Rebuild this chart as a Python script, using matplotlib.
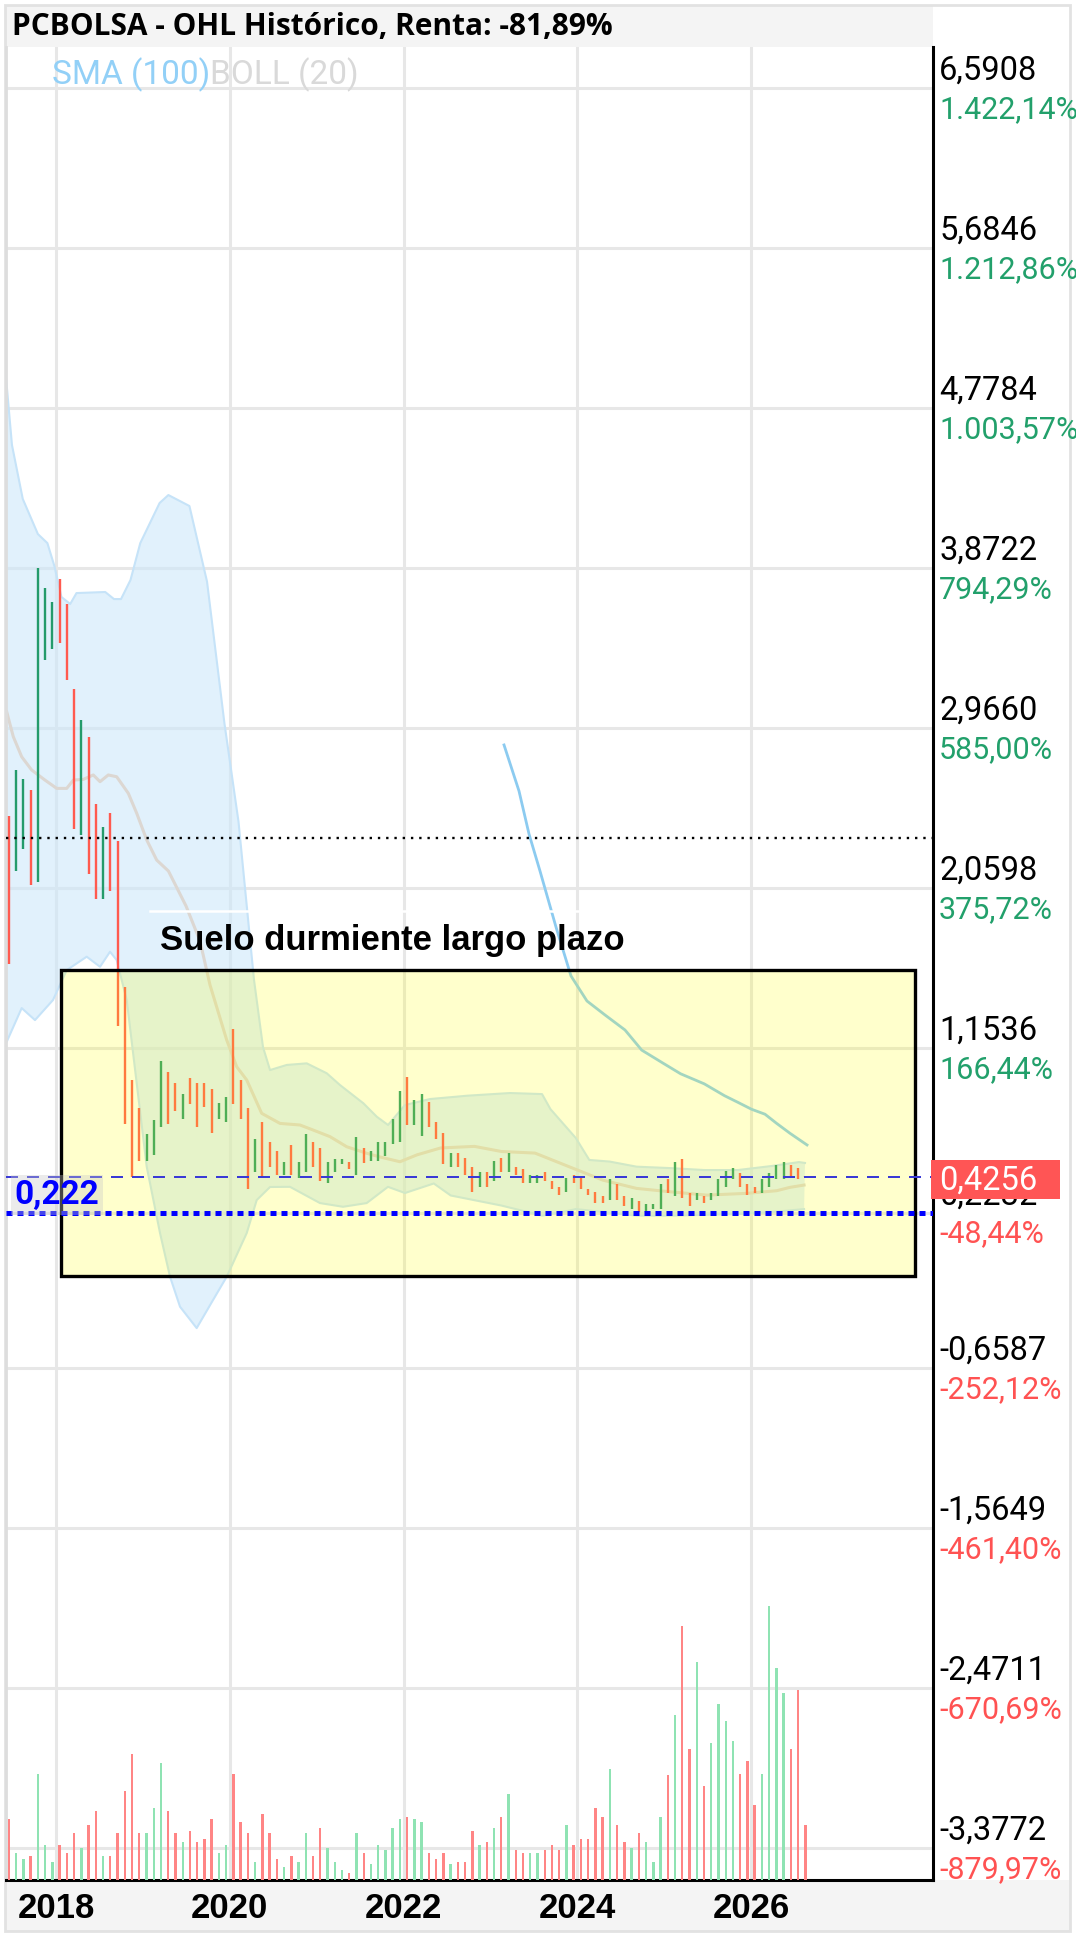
"""OHL monthly chart with Bollinger bands, SMA(100) and volume"""

import matplotlib
matplotlib.use("Agg")
import matplotlib.pyplot as plt
from matplotlib.patches import Rectangle

plt.rcParams['font.family'] = ['Roboto', 'DejaVu Sans']

# monthly bars, first one is Jun 2017, last one Aug 2026
highs = [2.469, 2.729, 2.678, 2.616, 3.871, 3.761, 3.680, 3.809, 3.667, 3.188,
         3.012, 2.916, 2.535, 2.408, 2.487, 2.327, 1.499, 0.974, 0.813, 0.668,
         0.747, 1.083, 1.021, 0.955, 0.893, 0.987, 0.955, 0.955, 0.924, 0.845,
         0.876, 1.261, 0.974, 0.813, 0.638, 0.734, 0.621, 0.573, 0.511, 0.606,
         0.511, 0.668, 0.621, 0.590, 0.511, 0.526, 0.526, 0.511, 0.653, 0.590,
         0.573, 0.621, 0.624, 0.751, 0.911, 0.992, 0.860, 0.896, 0.847, 0.734,
         0.672, 0.559, 0.559, 0.530, 0.483, 0.451, 0.451, 0.515, 0.530, 0.562,
         0.483, 0.468, 0.436, 0.436, 0.451, 0.403, 0.369, 0.417, 0.436, 0.417,
         0.356, 0.338, 0.318, 0.413, 0.383, 0.318, 0.304, 0.289, 0.272, 0.272,
         0.383, 0.413, 0.511, 0.528, 0.335, 0.335, 0.318, 0.335, 0.413, 0.460,
         0.477, 0.445, 0.383, 0.366, 0.413, 0.445, 0.492, 0.511, 0.492, 0.477,
         0.430]
lows = [1.630, 2.157, 2.283, 2.078, 2.093, 3.352, 3.416, 3.446, 3.239, 2.395,
        2.363, 2.142, 1.997, 1.997, 2.044, 1.281, 0.723, 0.423, 0.517, 0.517,
        0.549, 0.709, 0.723, 0.800, 0.755, 0.836, 0.709, 0.819, 0.675, 0.755,
        0.737, 0.836, 0.755, 0.356, 0.451, 0.419, 0.483, 0.436, 0.436, 0.436,
        0.419, 0.451, 0.483, 0.403, 0.389, 0.451, 0.498, 0.468, 0.436, 0.502,
        0.517, 0.517, 0.545, 0.610, 0.624, 0.719, 0.719, 0.657, 0.706, 0.640,
        0.498, 0.483, 0.483, 0.436, 0.341, 0.369, 0.369, 0.403, 0.451, 0.451,
        0.436, 0.389, 0.389, 0.389, 0.403, 0.356, 0.322, 0.338, 0.389, 0.356,
        0.322, 0.275, 0.275, 0.294, 0.294, 0.260, 0.242, 0.228, 0.224, 0.242,
        0.242, 0.335, 0.318, 0.304, 0.260, 0.294, 0.275, 0.294, 0.318, 0.369,
        0.413, 0.369, 0.322, 0.335, 0.335, 0.366, 0.413, 0.413, 0.426, 0.413,
        0.4256]
direction = ("duuduuuddd" "uddudddddu" "uudduddddu" "udddudddud" "uudduuudud"
             "uuuuuduudd" "dudddududu" "dduudddudd" "dddudduduu" "ududduduuu"
             "uddduuuudd" "d")
volumes = [6.1, 2.7, 2.1, 2.4, 10.6, 3.5, 1.8, 3.5, 2.7, 4.7,
           3.2, 5.5, 6.9, 2.4, 2.4, 4.7, 8.9, 12.6, 4.7, 4.7,
           7.2, 11.7, 6.9, 4.7, 3.8, 4.9, 3.8, 4.1, 6.1, 2.7,
           3.5, 10.6, 5.8, 4.7, 1.8, 6.6, 4.7, 2.1, 1.3, 2.4,
           1.8, 4.7, 2.4, 5.2, 3.2, 1.8, 1.0, 0.7, 4.7, 2.7,
           1.6, 3.5, 3.0, 5.2, 6.1, 6.3, 6.1, 5.8, 2.7, 2.1,
           2.7, 1.6, 1.8, 1.8, 4.9, 3.5, 3.8, 5.2, 6.3, 8.6,
           3.0, 2.7, 2.7, 2.7, 3.0, 3.5, 3.0, 5.5, 3.5, 4.1,
           4.1, 7.2, 6.3, 11.1, 5.5, 3.8, 3.2, 4.7, 3.8, 1.8,
           6.3, 10.5, 16.5, 25.4, 13.1, 21.8, 9.4, 13.7, 17.6, 15.9,
           13.9, 10.6, 11.9, 7.5, 10.6, 27.4, 21.2, 18.7, 13.1, 19.0,
           5.5]

# Bollinger (20) and SMA (100), x in months since Jun 2017
boll_up_x = [0.09, 0.92, 2.41, 4.50, 5.81, 6.78, 7.75, 8.96, 9.83, 13.80, 15.01,
             15.98, 17.29, 18.64, 21.31, 22.52, 25.43, 27.86, 30.27, 32.21, 34.35,
             35.59, 36.56, 38.87, 41.63, 44.39, 46.23, 49.45, 51.30, 52.86, 55.20,
             58.66, 63.85, 69.71, 74.13, 75.29, 78.80, 80.66, 83.46, 87.19, 91.81,
             96.50, 101.20, 105.89, 109.62, 110.45]
boll_up = [4.954, 4.569, 4.264, 4.065, 4.014, 3.884, 3.709, 3.669, 3.731, 3.737, 3.697,
           3.697, 3.805, 4.014, 4.241, 4.286, 4.224, 3.796, 2.992, 2.436, 1.540,
           1.160, 1.030, 1.059, 1.068, 1.012, 0.945, 0.842, 0.766, 0.719, 0.832,
           0.866, 0.885, 0.900, 0.894, 0.809, 0.645, 0.521, 0.512, 0.483, 0.475,
           0.464, 0.464, 0.487, 0.509, 0.504]
boll_mid_x = [0.19, 1.10, 2.26, 3.64, 5.48, 7.10, 8.48, 9.39, 10.77, 12.15, 13.08,
              14.22, 15.38, 16.99, 18.15, 19.53, 20.91, 22.53, 24.96, 26.89, 28.27,
              30.58, 31.96, 33.34, 35.41, 37.94, 40.70, 42.55, 44.85, 47.15, 49.91,
              51.75, 54.51, 56.86, 60.12, 64.79, 68.52, 73.16, 77.86, 82.52, 87.19,
              91.81, 96.88, 102.40, 106.54, 108.38, 110.32]
boll_mid = [3.059, 2.918, 2.804, 2.729, 2.672, 2.625, 2.625, 2.672, 2.676, 2.701, 2.663,
            2.701, 2.691, 2.597, 2.484, 2.333, 2.219, 2.157, 1.959, 1.761, 1.512,
            1.200, 1.049, 0.974, 0.785, 0.728, 0.719, 0.690, 0.653, 0.596, 0.559,
            0.538, 0.511, 0.550, 0.589, 0.598, 0.569, 0.560, 0.483, 0.407, 0.360,
            0.341, 0.322, 0.332, 0.347, 0.366, 0.379]
boll_low_x = [0.19, 2.26, 4.10, 6.59, 8.48, 11.24, 13.08, 14.46, 15.38, 16.77, 19.53,
              21.37, 22.75, 24.13, 26.43, 28.69, 30.58, 33.34, 34.72, 36.56, 39.32,
              43.46, 46.64, 49.91, 52.85, 55.20, 59.18, 61.52, 68.52, 74.13, 76.89,
              78.80, 87.19, 91.87, 101.20, 105.89, 110.32]
boll_low = [1.190, 1.381, 1.313, 1.427, 1.596, 1.672, 1.615, 1.700, 1.653, 1.427, 0.483,
            0.107, -0.140, -0.310, -0.431, -0.272, -0.140, 0.107, 0.294, 0.368, 0.369,
            0.277, 0.256, 0.277, 0.369, 0.334, 0.388, 0.320, 0.263, 0.206, 0.226,
            0.243, 0.206, 0.206, 0.215, 0.226, 0.243]
sma_x = [68.88, 70.95, 72.33, 73.85, 76.06, 78.13, 80.34, 82.83, 85.59, 87.90,
         90.93, 93.27, 96.54, 99.33, 101.20, 103.08, 104.93, 106.54, 108.38, 110.73]
sma = [2.871, 2.610, 2.367, 2.157, 1.840, 1.563, 1.421, 1.342, 1.257, 1.143,
       1.067, 1.009, 0.952, 0.885, 0.847, 0.808, 0.780, 0.728, 0.672, 0.606]

# right axis levels and labels
levels = [6.5908, 5.6846, 4.7784, 3.8722, 2.9660, 2.0598, 1.1536, 0.2232,
          -0.6587, -1.5649, -2.4711, -3.3772]
level_labels = ['6,5908', '5,6846', '4,7784', '3,8722', '2,9660', '2,0598', '1,1536',
                '0,2232', '-0,6587', '-1,5649', '-2,4711', '-3,3772']
pct_labels = ['1.422,14%', '1.212,86%', '1.003,57%', '794,29%', '585,00%', '375,72%',
              '166,44%', '-48,44%', '-252,12%', '-461,40%', '-670,69%', '-879,97%']
year_ticks = [7, 31, 55, 79, 103]
year_labels = ['2018', '2020', '2022', '2024', '2026']

last_price = 0.4256
support = 0.222
dotted_level = 2.346
zone = (7.69, 125.65, -0.136, 1.596)  # x0, x1, y0, y1
zone_text = 'Suelo durmiente largo plazo'
title = 'PCBOLSA - OHL Histórico, Renta: -81,89%'

W, H = 1076, 1937
UP, DOWN = '#249b6b', '#ff5a4f'
UP_V, DOWN_V = '#8fe3b3', '#ff8585'
GRID = '#e7e7e7'

fig = plt.figure(figsize=(W / 100, H / 100), dpi=100)

# frames: title strip, date strip, outer border
fig.add_artist(Rectangle((5 / W, 1 - 48 / H), 928 / W, 43 / H,
                         transform=fig.transFigure, facecolor='#f4f4f4',
                         edgecolor='none', zorder=-2))
fig.add_artist(Rectangle((5 / W, 1 - 1931 / H), 1065 / W, 51 / H,
                         transform=fig.transFigure, facecolor='#f4f4f4',
                         edgecolor='none', zorder=-2))
fig.add_artist(Rectangle((5 / W, 1 - 1931 / H), 1065 / W, 1926 / H,
                         transform=fig.transFigure, facecolor='none',
                         edgecolor='#e2e2e2', lw=2, zorder=-1))

ax = fig.add_axes([6 / W, 1 - 1880 / H, 927 / W, 1833 / H])
ax.set_xlim(0.094, 128.13)
ax.set_ylim(-3.556, 6.823)

for lv in levels:
    ax.axhline(lv, color=GRID, lw=2.2, zorder=0)
for xt in year_ticks:
    ax.axvline(xt, color=GRID, lw=2.2, zorder=0)

# Bollinger band
ax.fill(boll_up_x + boll_low_x[::-1], boll_up + boll_low[::-1],
        facecolor='#cde8fa', alpha=0.6, edgecolor='none', zorder=1)
ax.plot(boll_up_x, boll_up, color='#c6e3f8', lw=1.5, zorder=1.5)
ax.plot(boll_low_x, boll_low, color='#c6e3f8', lw=1.5, zorder=1.5)
ax.plot(boll_mid_x, boll_mid, color='#dcd7d2', lw=2.2, zorder=2)

# SMA 100
ax.plot(sma_x, sma, color='#8ccbf0', lw=2, zorder=3)

# monthly bars
xs = [k + 0.5 for k in range(len(highs))]
bar_colors = [UP if d == 'u' else DOWN for d in direction]
ax.vlines(xs, lows, highs, colors=bar_colors, lw=1.7, zorder=4)

ax.axhline(dotted_level, color='black', lw=1.7, ls=(0, (1, 2.5)), zorder=5)

# yellow zone
ax.add_patch(Rectangle((zone[0], zone[2]), zone[1] - zone[0], zone[3] - zone[2],
                       facecolor=(1, 1, 0, 0.2), edgecolor='black', lw=2.4,
                       zorder=6))
ax.plot([19.98, 89.04], [1.931, 1.931], color='white', lw=1.8, zorder=5)
ax.text(21.36, 1.766, zone_text, fontsize=25, fontweight='bold',
        family=['Liberation Sans', 'DejaVu Sans'], ha='left', va='center',
        zorder=8)

ax.axhline(last_price, color='#3a3ad6', lw=1.44, ls=(0, (6, 4.5)), zorder=7)
ax.axhline(support, color='#0000ff', lw=3.6, ls=(0, (1.2, 1.0)), zorder=7)
ax.text(1.3, support + 0.103, '0,222', color='#0000ff', fontsize=24,
        fontweight='bold', ha='left', va='center', zorder=8,
        bbox=dict(facecolor='#c8c8c8', alpha=0.35, edgecolor='none',
                  pad=3))

# right axis labels
ytr = ax.get_yaxis_transform()
for lv, lab, pct in zip(levels, level_labels, pct_labels):
    ax.text(1.0065, lv + 0.098, lab, transform=ytr, fontsize=23.5,
            color='black', ha='left', va='center', clip_on=False)
    ax.text(1.0065, lv - 0.122, pct, transform=ytr, fontsize=22,
            color='#22a06b' if lv > 0.43 else '#ff5252',
            ha='left', va='center', clip_on=False)

ax.add_patch(Rectangle((0.998, last_price - 0.125), 0.139, 0.222,
                       transform=ytr, facecolor='#ff5555', edgecolor='none',
                       clip_on=False, zorder=9))
ax.text(1.0065, last_price - 0.02, '0,4256', transform=ytr, fontsize=23.5,
        color='white', ha='left', va='center', clip_on=False, zorder=10)

ax.set_yticks([])
ax.set_xticks(year_ticks)
ax.set_xticklabels(year_labels, fontsize=25, fontweight='bold',
                   family=['Liberation Sans', 'DejaVu Sans'])
ax.tick_params(axis='x', length=0, pad=9)
ax.spines['top'].set_visible(False)
ax.spines['left'].set_color('#dddddd')
ax.spines['left'].set_linewidth(2)
ax.spines['right'].set_linewidth(2.2)
ax.spines['bottom'].set_linewidth(2.2)

# volume on its own scale
ax2 = ax.twinx()
ax2.set_ylim(0, 183.3)
vol_colors = [UP_V if d == 'u' else DOWN_V for d in direction]
ax2.bar(xs, volumes, width=0.33, color=vol_colors, zorder=2)
ax2.set_yticks([])
for s in ax2.spines.values():
    s.set_visible(False)

fig.text(12 / W, 1 - 27 / H, title, fontsize=21.5, fontweight='bold',
         family=['Open Sans', 'DejaVu Sans'], va='center', ha='left')
fig.text(52 / W, 1 - 75 / H, 'SMA (100)', fontsize=24, color='#92d0f7',
         va='center', ha='left')
fig.text(210 / W, 1 - 75 / H, 'BOLL (20)', fontsize=24, color='#d9d9d9',
         va='center', ha='left')

fig.savefig('out.png', dpi=100)
